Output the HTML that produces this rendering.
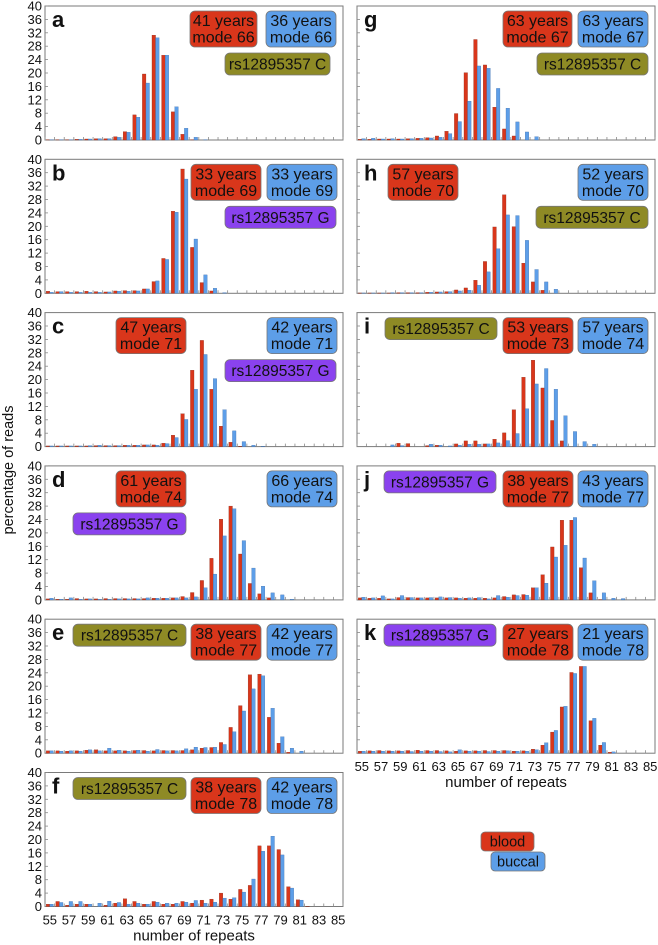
<!DOCTYPE html>
<html><head><meta charset="utf-8"><style>
html,body{margin:0;padding:0;background:#fff;}
svg{display:block;font-family:"Liberation Sans",Arial,sans-serif;}
</style></head><body>
<svg id="fig" width="658" height="945" viewBox="0 0 658 945" xmlns="http://www.w3.org/2000/svg"></svg>
<script>
const categories=[55,56,57,58,59,60,61,62,63,64,65,66,67,68,69,70,71,72,73,74,75,76,77,78,79,80,81,82,83,84,85];
const yTicks=[0,4,8,12,16,20,24,28,32,36,40];
const xTickLabels=[55,57,59,61,63,65,67,69,71,73,75,77,79,81,83,85];
const aRed=[0.1,0.1,0.1,0.2,0.3,0.4,0.4,1.0,2.5,7.5,19.7,31.3,25.3,8.4,1.7,0.1,0,0,0,0,0,0,0,0,0,0,0,0,0,0,0];
const aBlue=[0.1,0.1,0.1,0.2,0.3,0.4,0.4,0.8,2.3,6.8,17.0,30.5,25.3,9.9,3.5,0.8,0.1,0,0,0,0,0,0,0,0,0,0,0,0,0,0];
const bRed=[0.6,0.5,0.5,0.5,0.6,0.5,0.4,0.7,0.8,0.8,1.3,3.5,10.4,24.5,37.1,13.7,3.2,0.7,0,0,0,0,0,0,0,0,0,0,0,0,0];
const bBlue=[0.3,0.5,0.3,0.3,0.3,0.3,0.4,0.6,0.6,0.7,1.3,3.7,10.1,24.2,34.1,16.2,5.5,1.5,0.2,0,0,0,0,0,0,0,0,0,0,0,0];
const cRed=[0.2,0.2,0.2,0.2,0.2,0.3,0.3,0.3,0.4,0.4,0.5,0.5,1.0,3.4,9.8,22.8,31.7,17.1,6.1,1.3,0.1,0,0,0,0,0,0,0,0,0,0];
const cBlue=[0.2,0.2,0.2,0.2,0.3,0.4,0.3,0.3,0.4,0.4,0.5,0.4,0.9,2.7,8.1,17.1,27.5,20.3,11.0,4.7,1.5,0.4,0.1,0,0,0,0,0,0,0,0];
const dRed=[0.3,0.2,0.2,0.4,0.3,0.3,0.4,0.4,0.4,0.4,0.4,0.5,0.5,0.6,1.0,2.2,5.8,12.4,24.1,28.0,13.7,4.9,1.8,0.6,0,0,0,0,0,0,0];
const dBlue=[0.5,0.2,0.6,0.2,0.3,0.2,0.2,0.3,0.3,0.3,0.6,0.5,0.5,0.6,0.6,0.9,3.6,7.7,19.1,27.2,17.7,9.5,4.1,2.1,1.5,0.2,0,0,0,0,0];
const eRed=[0.7,0.7,0.6,0.7,0.9,1.0,0.7,0.7,0.7,0.8,0.8,0.7,0.8,0.8,0.8,1.0,1.5,1.7,3.2,7.7,14.2,23.4,23.6,10.7,3.0,0.3,0,0,0,0,0];
const eBlue=[0.7,0.6,0.7,0.6,1.0,0.7,1.5,0.9,0.6,0.9,0.6,1.1,0.7,0.7,1.3,1.8,1.7,1.8,2.6,6.4,12.6,19.2,23.1,13.4,4.9,1.5,0.6,0,0,0,0];
const fRed=[0.7,1.5,0.4,0.7,0.7,0,0.4,1.0,2.3,1.5,0.7,1.5,0.7,0.7,1.5,1.0,1.9,2.2,4.0,2.2,5.1,6.3,18.1,18.1,17.0,5.9,2.0,0.1,0,0,0];
const fBlue=[0.7,1.2,1.5,1.5,0.7,1.0,1.6,1.2,0.7,1.0,0.7,1.3,1.0,1.0,1.3,1.8,1.0,1.3,2.5,2.6,4.3,8.2,16.5,21.0,15.4,5.5,1.9,0,0,0,0];
const gRed=[0.2,0.2,0.3,0.3,0.3,0.4,0.5,0.7,1.2,2.6,7.9,20.1,30.0,22.4,9.8,3.3,1.2,0,0,0,0,0,0,0,0,0,0,0,0,0,0];
const gBlue=[0.4,0.5,0.3,0.4,0.3,0.4,0.5,0.6,0.8,1.9,5.5,11.6,22.1,21.4,15.4,9.5,5.4,2.4,1.0,0,0,0,0,0,0,0,0,0,0,0,0];
const hRed=[0.1,0.1,0.1,0.1,0.2,0.2,0.2,0.3,0.4,0.5,1.0,1.6,3.9,9.5,19.8,29.4,19.9,9.0,3.4,0.9,0,0,0,0,0,0,0,0,0,0,0];
const hBlue=[0.1,0.1,0.1,0.2,0.2,0.2,0.2,0.3,0.4,0.5,0.7,0.9,2.4,6.4,13.3,23.4,23.2,15.8,7.1,3.4,1.2,0,0,0,0,0,0,0,0,0,0];
const iRed=[0,0,0,0,1.0,0.9,0,0.3,0.4,0,0.8,1.7,1.7,0.8,2.2,4.1,11.0,20.7,25.8,17.5,7.8,1.7,0,0,0,0,0,0,0,0,0];
const iBlue=[0,0,0,0.5,0.3,0,0,0.7,0.4,0.2,0.4,0.7,0.7,0.8,1.1,1.8,3.9,11.3,18.7,23.3,17.1,9.2,4.5,1.5,0.7,0,0,0,0,0,0];
const jRed=[0.6,0.5,0.5,0.3,0.7,0.7,0.6,0.6,0.6,0.6,0.6,0.5,0.5,0.5,0.6,1.0,1.5,1.6,3.6,7.5,15.8,23.8,23.8,9.6,2.1,0.1,0,0,0,0,0];
const jBlue=[0.8,0.6,1.2,0.3,1.3,0.7,0.6,0.7,0.9,0.7,0.5,0.6,0.7,0.3,1.3,0.8,1.3,1.4,3.6,5.0,12.8,16.3,24.6,12.5,5.7,2.1,0.5,0.4,0,0,0];
const kRed=[0.6,0.7,0.8,0.7,0.7,0.8,0.9,0.8,0.8,0.7,0.6,0.7,0.7,0.8,0.8,0.8,0.6,0.7,1.2,2.4,6.3,13.8,24.1,25.9,9.7,2.4,0.3,0,0,0,0];
const kBlue=[0.6,0.6,0.6,0.6,0.6,0.5,0.6,0.6,0.5,0.4,1.0,0.6,0.6,0.5,0.6,0.7,0.6,0.6,1.0,3.1,6.8,14.0,23.8,25.9,10.4,3.2,0.4,0,0,0,0];

const NS='http://www.w3.org/2000/svg';
const svg=document.getElementById('fig');
const RED='#d9361b',BLUE='#5d9ee8',OLIVE='#8e8a25',PURPLE='#8a42ee';
function mk(tag,attrs,parent){const e=document.createElementNS(NS,tag);for(const k in attrs)e.setAttribute(k,attrs[k]);(parent||svg).appendChild(e);return e;}

const PH=134, ROW=153.3, TOP0=6;
const panels=[
 {id:'a',x:45,row:0,red:aRed,blue:aBlue,badges:[['r',145,5,67,36,'41 years','mode 66'],['b',221,5,70,36,'36 years','mode 66'],['o',180,47,105,22,'rs12895357 C']]},
 {id:'b',x:45,row:1,red:bRed,blue:bBlue,badges:[['r',146,5,70,36,'33 years','mode 69'],['b',222,5,70,36,'33 years','mode 69'],['p',180,47,111,22,'rs12895357  G']]},
 {id:'c',x:45,row:2,red:cRed,blue:cBlue,badges:[['r',71,5,70,36,'47 years','mode 71'],['b',222,5,70,36,'42 years','mode 71'],['p',180,47,111,22,'rs12895357  G']]},
 {id:'d',x:45,row:3,red:dRed,blue:dBlue,badges:[['r',71,5,70,36,'61 years','mode 74'],['b',222,5,70,36,'66 years','mode 74'],['p',28,47,113,22,'rs12895357  G']]},
 {id:'e',x:45,row:4,red:eRed,blue:eBlue,badges:[['o',28,5,113,22,'rs12895357 C'],['r',146,5,70,36,'38 years','mode 77'],['b',222,5,70,36,'42 years','mode 77']]},
 {id:'f',x:45,row:5,red:fRed,blue:fBlue,badges:[['o',28,5,113,22,'rs12895357 C'],['r',146,5,70,36,'38 years','mode 78'],['b',222,5,70,36,'42 years','mode 78']]},
 {id:'g',x:357,row:0,red:gRed,blue:gBlue,badges:[['r',146,5,69,36,'63 years','mode 67'],['b',221,5,70,36,'63 years','mode 67'],['o',180,47,111,22,'rs12895357 C']]},
 {id:'h',x:357,row:1,red:hRed,blue:hBlue,badges:[['r',31,5,70,36,'57 years','mode 70'],['b',221,5,70,36,'52 years','mode 70'],['o',179,47,112,22,'rs12895357 C']]},
 {id:'i',x:357,row:2,red:iRed,blue:iBlue,badges:[['o',28,5,112,22,'rs12895357 C'],['r',146,5,70,36,'53 years','mode 73'],['b',221,5,70,36,'57 years','mode 74']]},
 {id:'j',x:357,row:3,red:jRed,blue:jBlue,badges:[['p',27,5,112,22,'rs12895357  G'],['r',146,5,70,36,'38 years','mode 77'],['b',221,5,70,36,'43 years','mode 77']]},
 {id:'k',x:357,row:4,red:kRed,blue:kBlue,badges:[['p',27,5,112,22,'rs12895357  G'],['r',146,5,70,36,'27 years','mode 78'],['b',221,5,70,36,'21 years','mode 78']]}
];
const W=298;
const fills={r:RED,b:BLUE,o:OLIVE,p:PURPLE};

panels.forEach(p=>{
  const top=TOP0+ROW*p.row, left=p.x;
  const g=mk('g',{});
  
  
  const sw=W/categories.length, bw=sw*0.37;
  const xc=i=>left+sw*(i+0.5);
  const yv=v=>top+PH*(1-v/40);
  const box=mk('rect',{x:left,y:top,width:W,height:PH,fill:'#fff',stroke:'#7a7a7a','stroke-width':1},g);
  
  
  yTicks.forEach(t=>{
    mk('line',{x1:left,x2:left+3,y1:yv(t),y2:yv(t),stroke:'#888','stroke-width':0.8},g);
    if(left<100){
      const tx=mk('text',{x:left-3,y:yv(t)+4.5,'font-size':13,'text-anchor':'end',fill:'#111'},g);
      tx.textContent=t;
      
      
    }
  });
  for(let i=0;i<=categories.length;i++){
    mk('line',{x1:left+sw*i,x2:left+sw*i,y1:top+PH,y2:top+PH-3,stroke:'#888','stroke-width':0.8},g);
  }
  categories.forEach((c,i)=>{
    const rv=p.red[i], bv=p.blue[i];
    if(rv>0){
      const r=mk('rect',{x:xc(i)-bw,y:yv(rv),width:bw,height:PH*rv/40,fill:RED,stroke:'#8a2a18','stroke-width':0.3},g);
      
      
    }
    if(bv>0){
      const b=mk('rect',{x:xc(i),y:yv(bv),width:bw,height:PH*bv/40,fill:BLUE,stroke:'#3a6aa8','stroke-width':0.3},g);
      
      
    }
  });
  const L=mk('text',{x:left+7,y:top+21,'font-size':22,'font-weight':'bold',fill:'#111'},g);
  L.textContent=p.id;
  
  
  p.badges.forEach(bd=>{
    const [k,bx,by,bwid,bh,l1,l2]=bd;
    const bg=mk('g',{},g);
    
    
    mk('rect',{x:left+bx,y:top+by,width:bwid,height:bh,rx:5,fill:fills[k],stroke:'#777','stroke-width':0.8},bg);
    if(l2){
      const t1=mk('text',{x:left+bx+bwid/2,y:top+by+15,'font-size':16,'text-anchor':'middle',fill:'#111'},bg);t1.textContent=l1;
      const t2=mk('text',{x:left+bx+bwid/2,y:top+by+31.5,'font-size':16,'text-anchor':'middle',fill:'#111'},bg);t2.textContent=l2;
    } else {
      const t1=mk('text',{x:left+bx+bwid/2,y:top+by+16.5,'font-size':15.5,'text-anchor':'middle',fill:'#111','xml:space':'preserve'},bg);t1.textContent=l1;
    }
  });
  if(p.id==='f'||p.id==='k'){
    xTickLabels.forEach(v=>{
      const i=categories.indexOf(v);
      const t=mk('text',{x:xc(i),y:top+PH+18,'font-size':13,'text-anchor':'middle',fill:'#111'},g);
      t.textContent=v;
      
      
    });
    const tt=mk('text',{x:left+W/2,y:top+PH+34,'font-size':15,'text-anchor':'middle',fill:'#111'},g);
    tt.textContent='number of repeats';
    
    
  }
});
const yt=mk('text',{x:0,y:0,'font-size':14.5,'text-anchor':'middle',fill:'#111',transform:'translate(13,470) rotate(-90)'});
yt.textContent='percentage of reads';


const lg=mk('g',{});


const l1=mk('g',{},lg);


mk('rect',{x:481,y:832,width:53,height:19,rx:4,fill:RED,stroke:'#777','stroke-width':0.8},l1);
const lt1=mk('text',{x:507.5,y:846.5,'font-size':14.5,'text-anchor':'middle',fill:'#111'},l1);lt1.textContent='blood';
const l2=mk('g',{},lg);


mk('rect',{x:491,y:852,width:54,height:19,rx:4,fill:BLUE,stroke:'#777','stroke-width':0.8},l2);
const lt2=mk('text',{x:518,y:866.5,'font-size':14.5,'text-anchor':'middle',fill:'#111'},l2);lt2.textContent='buccal';
</script>
</body></html>
